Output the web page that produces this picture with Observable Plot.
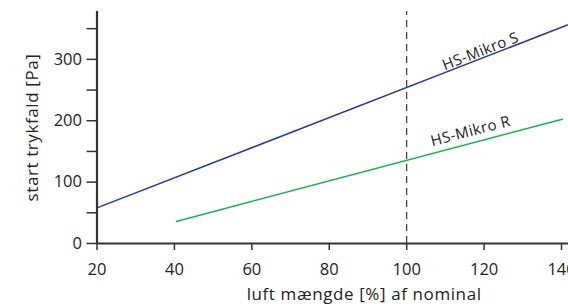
<!DOCTYPE html>
<html><head><meta charset="utf-8">
<script src="https://cdn.jsdelivr.net/npm/d3@7"></script>
<script src="https://cdn.jsdelivr.net/npm/@observablehq/plot@0.6"></script>
<style>
html,body{margin:0;padding:0;background:#fff;overflow:hidden;}
.lbl text{letter-spacing:0.6px;}
.lineLbl text{letter-spacing:0.4px;}
</style>
</head><body><div id="chart"></div>
<script>
const xTicks = [20, 40, 60, 80, 100, 120, 140];
const yTicks = [0, 50, 100, 150, 200, 250, 300, 350];
const yLabels = [0, 100, 200, 300];
const seriesS = [{x: 20, y: 58}, {x: 141.5, y: 356}];
const seriesR = [{x: 40.5, y: 36}, {x: 140.2, y: 202.5}];
const nominal = [100];
const lineLabels = [
  {name: "HS-Mikro S", x: 119.1, y: 313, angle: -21.3},
  {name: "HS-Mikro R", x: 116.5, y: 183, angle: -14.7}
];
const font = "'Open Sans', sans-serif";

const chart = Plot.plot({
  width: 568,
  height: 307,
  marginLeft: 96.5,
  marginRight: 0,
  marginTop: 11,
  marginBottom: 64,
  style: {fontFamily: font, fontSize: "16.5px", color: "#222", background: "#fff", overflow: "hidden"},
  x: {domain: [20, 141.8]},
  y: {domain: [0, 378]},
  marks: [
    Plot.axisX(xTicks, {tickSize: 7, tickPadding: 13, stroke: "#333", strokeWidth: 1.5, fill: "#222", label: null, fontSize: 16.5}),
    Plot.axisY(yTicks, {tickSize: 10, tickPadding: 5, stroke: "#333", strokeWidth: 1.5, fill: "#222", label: null, fontSize: 16.5,
      tickFormat: d => yLabels.includes(d) ? String(d) : ""}),
    Plot.ruleX(nominal, {y1: 0, y2: 378, stroke: "#111", strokeWidth: 1, strokeDasharray: "7,5"}),
    Plot.line(seriesS, {x: "x", y: "y", stroke: "#2b3a93", strokeWidth: 1.5}),
    Plot.line(seriesR, {x: "x", y: "y", stroke: "#18b04b", strokeWidth: 1.5}),
    Plot.ruleY([0], {x1: 20, x2: 141.8, stroke: "#333", strokeWidth: 2.2}),
    Plot.ruleX([20], {y1: 0, y2: 378, stroke: "#333", strokeWidth: 2.2}),
    Plot.text(lineLabels, {x: "x", y: "y", text: "name", rotate: "angle", fontSize: 15, fill: "#222", fontFamily: font, className: "lineLbl"}),
    Plot.text(["start trykfald [Pa]"], {frameAnchor: "left", textAnchor: "middle", dx: -64, rotate: -90, fontSize: 17, fill: "#222", fontFamily: font, className: "lbl"}),
    Plot.text(["luft mængde [%] af nominal"], {x: 89, frameAnchor: "bottom", textAnchor: "middle", dy: 56, fontSize: 17, fill: "#222", fontFamily: font, className: "lbl"})
  ]
});
document.getElementById("chart").appendChild(chart);
</script>
</body></html>
